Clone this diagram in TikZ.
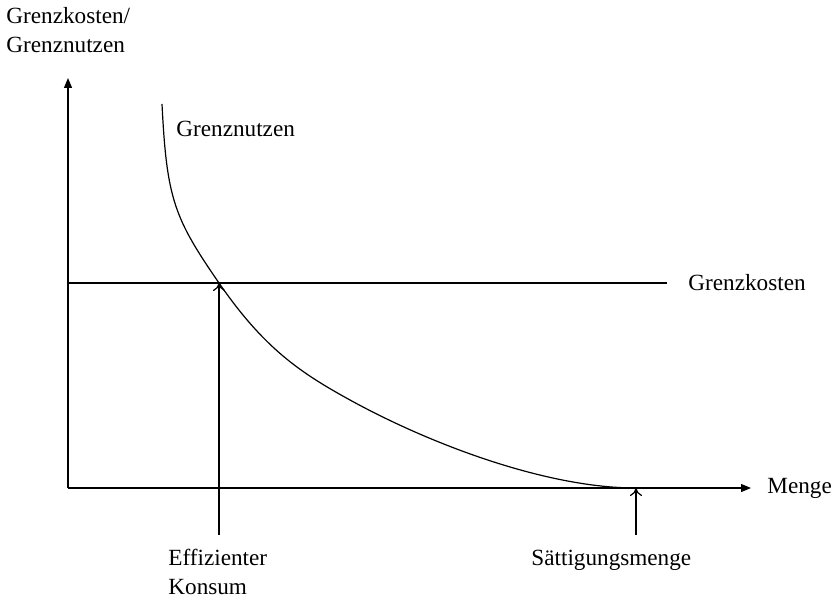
\documentclass[tikz,border=0pt]{standalone}
\usepackage{fontspec}
\setmainfont{Liberation Serif}
\usetikzlibrary{arrows.meta}
\begin{document}
\begin{tikzpicture}[x=0.5pt,y=-0.5pt,
  lbl/.style={inner sep=0pt,font=\fontsize{11.6}{14.5}\selectfont},
  axis/.style={line width=0.6pt,-{Triangle[length=5pt,width=4pt]}},
  pointer/.style={line width=0.6pt,-{To[length=4pt,width=6pt]}},
  thin line/.style={line width=0.6pt}]
\useasboundingbox (0,0) rectangle (834,604);
\coordinate (O) at (68,488);
\coordinate (ytip) at (68,78);
\coordinate (xtip) at (751,488);
\coordinate (gkL) at (68,283);
\coordinate (gkR) at (667,283);
\coordinate (top) at (162,104);
\coordinate (eff) at (219,283);
\coordinate (mid) at (350,400);
\coordinate (effB) at (219,535);
\coordinate (sat) at (636,488);
\coordinate (satB) at (636,535);
\coordinate (gnEnd) at (677,488);
\draw[axis] (O) -- (ytip);
\draw[axis] (O) -- (xtip);
\draw[thin line] (gkL) -- (gkR);
\draw[thin line] (top) .. controls (166.75,199) and (174,217.75) .. (eff)
  .. controls (264,348.25) and (300,372.5) .. (mid)
  .. controls (430,444) and (546,488) .. (sat) -- (gnEnd);
\draw[pointer] (effB) -- (eff);
\draw[pointer] (satB) -- (sat);
\node[lbl,anchor=west] (menge) at (767,488) {Menge};
\node[lbl,anchor=west] (gk) at (688,283) {Grenzkosten};
\node[lbl,anchor=west] (gn) at (176,129) {Grenznutzen};
\node[lbl,anchor=north west,align=left] (yl) at (6,7) {Grenzkosten/\\Grenznutzen};
\node[lbl,anchor=north west,align=left] (el) at (168,549) {Effizienter\\Konsum};
\node[lbl,anchor=north west] (sl) at (531,550) {Sättigungsmenge};
\end{tikzpicture}
\end{document}
